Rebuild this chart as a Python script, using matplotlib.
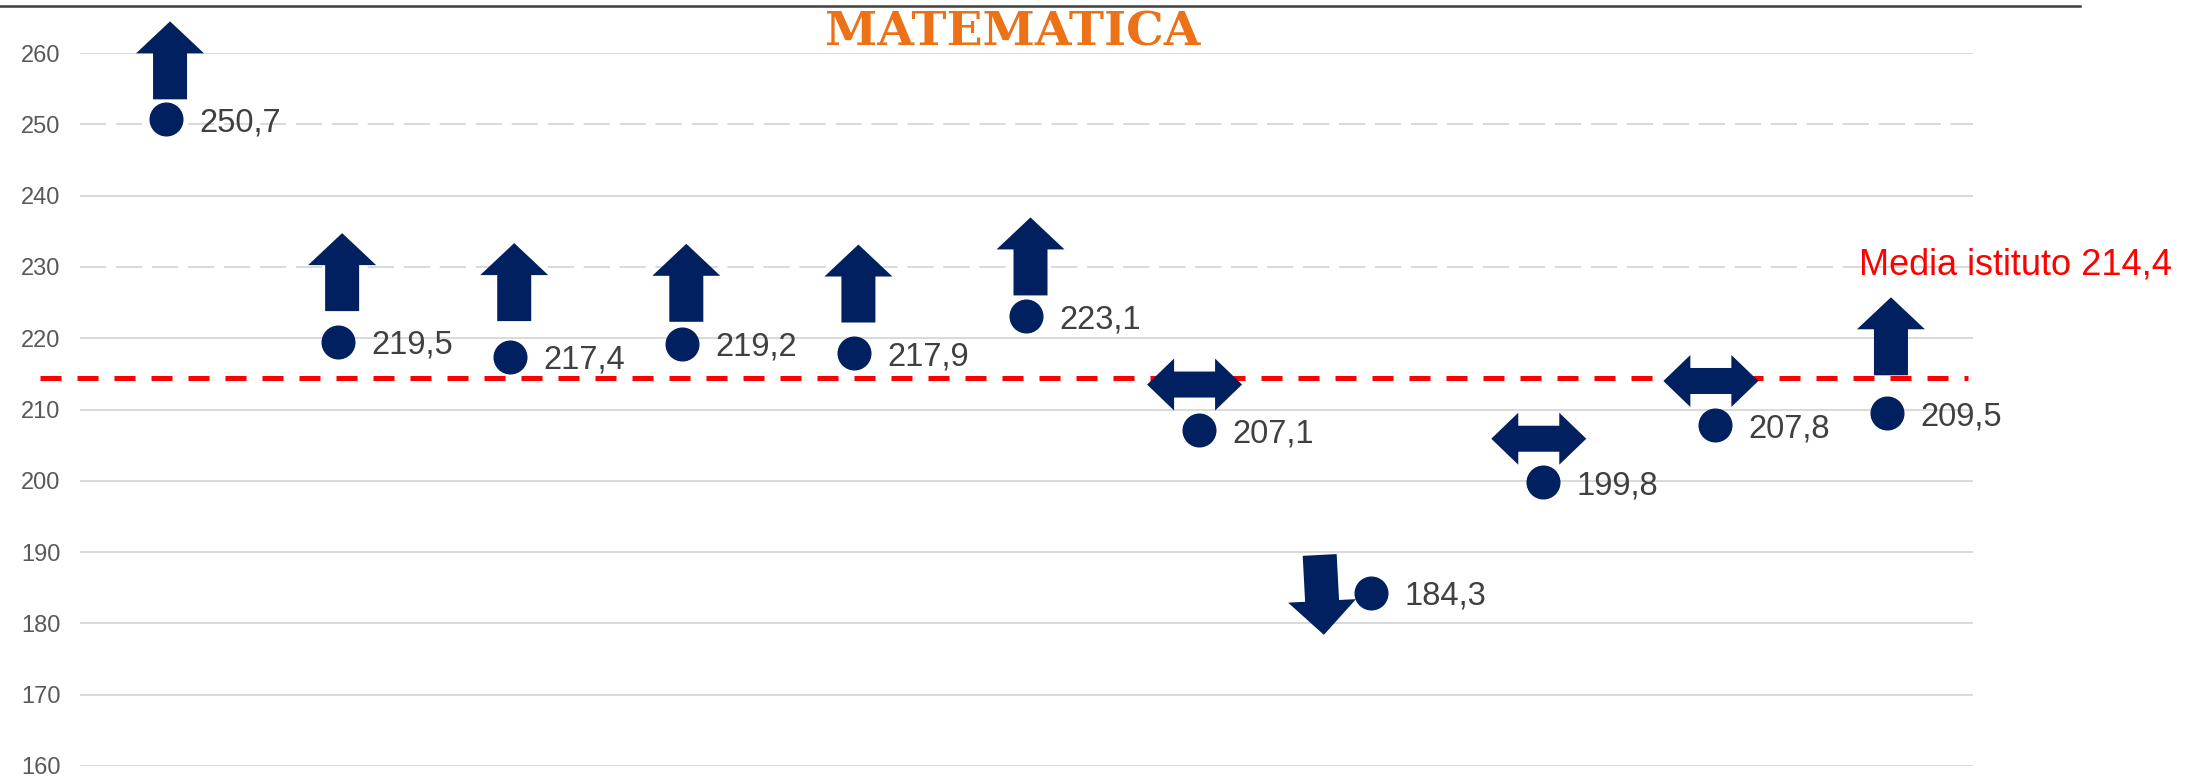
import matplotlib
matplotlib.use("Agg")
import matplotlib.pyplot as plt
from matplotlib.patches import Polygon
from matplotlib.lines import Line2D
import matplotlib.transforms as mtransforms

# data
values = [250.7, 219.5, 217.4, 219.2, 217.9, 223.1, 207.1, 184.3, 199.8, 207.8, 209.5]
trend = ['up', 'up', 'up', 'up', 'up', 'up', 'flat', 'down', 'flat', 'flat', 'up']
media = 214.4
yticks = [160, 170, 180, 190, 200, 210, 220, 230, 240, 250, 260]
title = 'MATEMATICA'
media_label = 'Media istituto 214,4'

# layout of the trend arrows (gap above the point, in y units; x shift in px)
arrow_gap = [2.8, 4.3, 5.0, 3.1, 4.3, 2.9, 6.4, 5.3, 6.1, 6.2, 5.3]
arrow_dx = {'up': 4, 'flat': -4, 'down': -51}

navy = '#002060'
W, H, DPI = 2210, 777, 100

fig = plt.figure(figsize=(W / DPI, H / DPI), dpi=DPI)
ax = fig.add_axes([80 / W, 1 - 766 / H, (1973 - 80) / W, (766 - 53) / H])
ax.set_xlim(-0.5, len(values) - 0.5)
ax.set_ylim(160, 260)
for s in ax.spines.values():
    s.set_visible(False)
ax.set_xticks([])
ax.set_yticks(yticks)
ax.tick_params(axis='y', length=0, pad=14, labelsize=17, labelcolor='#595959')
for lab in ax.get_yticklabels():
    lab.set_fontfamily('Liberation Sans')

# gridlines (two of them come out broken into dashes in the original)
for t in yticks:
    if t in (230, 250):
        ax.axhline(t, color='#D9D9D9', lw=1.4, dashes=(13.5, 5), zorder=0)
    else:
        ax.axhline(t, color='#D9D9D9', lw=1.4, zorder=0)

# average line
ax.plot([-0.73, 10.47], [media, media], color='#FF0000', lw=3.6,
        dashes=(4.2, 3.2), clip_on=False, zorder=2)
ax.text(9.84, 228.95, media_label, color='#FF0000', fontsize=26,
        fontfamily='Liberation Sans', ha='left', va='baseline')

x = list(range(len(values)))
ax.plot(x, values, 'o', ms=23.5, color=navy, zorder=4, clip_on=False)
for xi, v in zip(x, values):
    ax.annotate(f'{v:.1f}'.replace('.', ','), (xi, v), xytext=(24, -8.6),
                textcoords='offset points', ha='left', va='baseline',
                fontsize=23.5, color='#404040', fontfamily='Liberation Sans')

# arrow shapes in pixels
up_shape = [(-17, 0), (17, 0), (17, 46), (34, 46), (0, 78), (-34, 46), (-17, 46)]
down_shape = [(-17, 0), (17, 0), (17, -46), (34, -46), (0, -80), (-34, -46), (-17, -46)]
flat_shape = [(-47.5, 0), (-20.5, 26), (-20.5, 13), (20.5, 13), (20.5, 26),
              (47.5, 0), (20.5, -26), (20.5, -13), (-20.5, -13), (-20.5, -26)]
shapes = {'up': up_shape, 'down': down_shape, 'flat': flat_shape}

for xi, v, tr, gap in zip(x, values, trend, arrow_gap):
    base = mtransforms.Affine2D()
    if tr == 'down':
        base = base.rotate_deg(3)
    base = base.translate(arrow_dx[tr], 0)
    trans = base + mtransforms.ScaledTranslation(xi, v + gap, ax.transData)
    ax.add_patch(Polygon(shapes[tr], closed=True, facecolor=navy,
                         edgecolor='none', transform=trans, clip_on=False, zorder=5))

# title and rule on top
fig.text(1013 / W, 1 - 45 / H, title, ha='center', va='baseline',
         fontfamily='DejaVu Serif', fontweight='bold', fontsize=34, color='#ED7117')
fig.add_artist(Line2D([0, 2080 / W], [1 - 6 / H, 1 - 6 / H], color='#404040', lw=1.8))

fig.savefig('out.png', dpi=DPI)
